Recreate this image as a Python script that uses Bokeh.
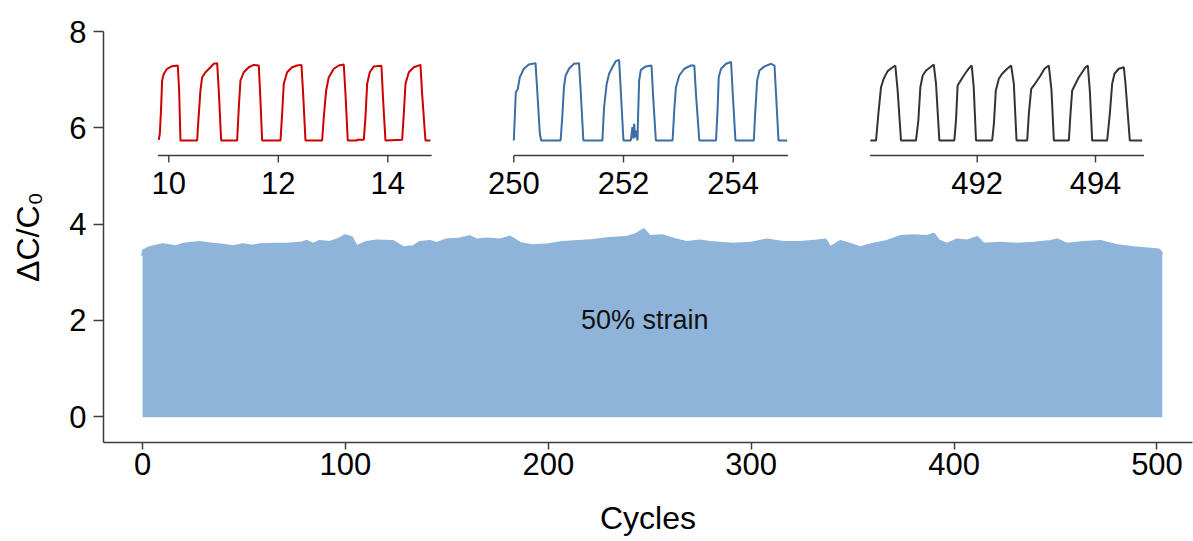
from bokeh.plotting import figure
from bokeh.models import Range1d
from bokeh.core.properties import value
from bokeh.embed import file_html
from bokeh.resources import INLINE

# ---------------- data ----------------
# upper envelope of the ΔC/C0 signal over 500 cycles
band_cycles = [0, 0.5, 3.5, 10, 16.6, 19.9, 28.1, 34.7, 39.6, 44.5, 49.5, 54.4, 57.7, 64.3, 70.9,
               77.5, 80.8, 84.1, 87.3, 92.3, 97.2, 99.7, 103, 105.4, 110.4, 115.3, 123.5, 128.5,
               133.4, 136.7, 141.6, 144.9, 149.8, 156.4, 161.3, 164.6, 169.6, 176.1, 181, 186,
               192, 200, 207, 215, 222, 230, 238, 243, 247, 250, 256, 262, 268, 274.8, 279.7,
               291.2, 299.5, 307.7, 315.9, 324.1, 332.3, 336.5, 338.9, 343.9, 348.8, 353.7,
               360.3, 366.9, 373.5, 380, 386.6, 389.9, 392.4, 396.5, 401.4, 406.4, 411.3, 414.6,
               422.8, 431, 439.2, 447.5, 450.8, 455.7, 463.9, 472.1, 480.4, 488.6, 496.8, 500.9,
               502.6]
band_top = [3.34, 3.45, 3.51, 3.57, 3.53, 3.58, 3.62, 3.58, 3.56, 3.53, 3.57, 3.54, 3.57, 3.58, 3.58,
            3.60, 3.64, 3.58, 3.64, 3.62, 3.69, 3.76, 3.72, 3.53, 3.62, 3.65, 3.64, 3.51,
            3.53, 3.62, 3.64, 3.60, 3.67, 3.69, 3.74, 3.67, 3.69, 3.67, 3.73, 3.60,
            3.55, 3.57, 3.62, 3.64, 3.66, 3.70, 3.72, 3.78, 3.88, 3.74, 3.76, 3.68, 3.62, 3.65, 3.62,
            3.58, 3.60, 3.67, 3.62, 3.62, 3.65, 3.67, 3.51, 3.64, 3.58, 3.51,
            3.58, 3.64, 3.74, 3.76, 3.74, 3.79, 3.65, 3.58, 3.67, 3.65, 3.72, 3.58,
            3.60, 3.58, 3.60, 3.64, 3.67, 3.58, 3.62, 3.64, 3.55, 3.51, 3.48, 3.46,
            3.38]
band_bottom = -0.01

x_ticks = [0, 100, 200, 300, 400, 500]
y_ticks = [0, 2, 4, 6, 8]

# inset 1 : cycles 10-14
in1_x = [9.817, 9.836, 9.860, 9.878, 9.909, 9.970, 10.061, 10.164, 10.189, 10.213,
         10.518, 10.536, 10.578, 10.609, 10.670, 10.761, 10.822, 10.883, 10.913, 10.956,
         11.248, 11.279, 11.309, 11.370, 11.461, 11.553, 11.644, 11.674, 11.705,
         12.040, 12.070, 12.100, 12.161, 12.253, 12.344, 12.423, 12.454, 12.496,
         12.801, 12.831, 12.874, 12.922, 13.014, 13.105, 13.196, 13.227, 13.269,
         13.440, 13.445, 13.562, 13.592, 13.623, 13.671, 13.744, 13.884, 13.915, 13.957,
         14.262, 14.292, 14.323, 14.384, 14.475, 14.597, 14.627, 14.688, 14.779]
in1_y = [0.03, 0.31, 1.54, 2.77, 3.08, 3.31, 3.43, 3.46, 2.31, 0.0,
         0.0, 0.77, 2.31, 2.92, 3.15, 3.38, 3.54, 3.57, 2.31, 0.0,
         0.0, 1.54, 2.77, 3.15, 3.38, 3.49, 3.46, 1.85, 0.0,
         0.0, 1.23, 2.62, 3.15, 3.38, 3.46, 3.49, 2.15, 0.0,
         0.0, 1.08, 2.31, 2.92, 3.31, 3.46, 3.51, 2.15, 0.0,
         0.0, 0.04, 0.04, 1.08, 2.62, 3.15, 3.42, 3.45, 1.85, 0.0,
         0.03, 1.23, 2.62, 3.15, 3.38, 3.49, 2.15, 0.0, 0.0]
in1_ticks = [10, 12, 14]

# inset 2 : cycles 250-255
in2_x = [250.000, 250.018, 250.037, 250.073, 250.110, 250.183, 250.274, 250.396, 250.427, 250.475, 250.500,
         250.853, 250.884, 250.914, 250.945, 251.006, 251.097, 251.189, 251.219, 251.268,
         251.615, 251.646, 251.694, 251.737, 251.798, 251.859, 251.920, 251.950, 251.999,
         252.133, 252.163, 252.181, 252.194, 252.212, 252.230, 252.255, 252.267, 252.285, 252.316,
         252.407, 252.511, 252.541, 252.590,
         252.895, 252.925, 252.956, 253.017, 253.108, 253.230, 253.291, 253.321, 253.382,
         253.687, 253.717, 253.736, 253.778, 253.870, 253.961, 253.992, 254.041,
         254.376, 254.400, 254.437, 254.479, 254.571, 254.692, 254.753, 254.784, 254.826, 254.984]
in2_y = [0.0, 1.08, 2.23, 2.38, 2.92, 3.31, 3.51, 3.57, 2.31, 0.31, 0.0,
         0.0, 1.08, 2.46, 3.0, 3.31, 3.54, 3.57, 2.31, 0.0,
         0.0, 1.54, 2.62, 3.08, 3.38, 3.66, 3.72, 2.31, 0.0,
         0.0, 0.62, 0.08, 0.77, 0.15, 0.46, 0.0, 1.23, 2.77, 3.26,
         3.42, 3.46, 2.0, 0.0,
         0.0, 1.38, 2.46, 3.0, 3.31, 3.46, 3.46, 2.15, 0.0,
         0.0, 1.54, 2.92, 3.31, 3.54, 3.62, 2.15, 0.0,
         0.0, 1.23, 2.77, 3.23, 3.42, 3.54, 3.46, 2.0, 0.0, 0.0]
in2_ticks = [250, 252, 254]

# inset 3 : cycles 490-495
in3_x = [490.194, 490.290, 490.329, 490.374, 490.419, 490.486, 490.571, 490.616, 490.655, 490.712,
         490.965, 491.005, 491.039, 491.079, 491.135, 491.208, 491.265, 491.304, 491.360,
         491.613, 491.641, 491.669, 491.703, 491.754, 491.811, 491.867, 491.907, 491.941, 491.980,
         492.253, 492.282, 492.315, 492.366, 492.422, 492.507, 492.574, 492.619, 492.665,
         492.845, 492.873, 492.913, 492.958, 493.014, 493.071, 493.138, 493.211, 493.256, 493.296,
         493.549, 493.577, 493.606, 493.662, 493.718, 493.775, 493.831, 493.870, 493.904, 493.944,
         494.197, 494.242, 494.282, 494.321, 494.394, 494.479, 494.507, 494.580, 494.789]
in3_y = [0.0, 0.0, 1.23, 2.46, 2.85, 3.20, 3.38, 3.46, 2.31, 0.0,
         0.0, 0.92, 2.46, 3.0, 3.23, 3.38, 3.51, 2.62, 0.0,
         0.0, 0.92, 2.54, 2.69, 2.92, 3.15, 3.35, 3.46, 2.46, 0.0,
         0.0, 0.77, 2.31, 2.85, 3.08, 3.31, 3.46, 2.62, 0.0,
         0.0, 1.23, 2.38, 2.54, 2.77, 3.0, 3.31, 3.46, 2.31, 0.0,
         0.0, 1.23, 2.31, 2.62, 2.92, 3.15, 3.38, 3.46, 2.31, 0.0,
         0.0, 1.23, 2.62, 3.08, 3.31, 3.38, 2.62, 0.0, 0.0]
in3_ticks = [492, 494]

# ---------------- layout constants ----------------
FONT = "Liberation Sans"
FRAME_L, FRAME_T, FRAME_W, FRAME_H = 103, 31, 1089, 411
AXIS_COLOR = "#3c3c3c"

# insets share one vertical mapping (pixel of value 0 and pixels per unit)
IN_BASE_PX, IN_PX_PER_UNIT = 140.0, 21.67
IN_AXIS_PX, IN_TICK_PX, IN_LABEL_PX = 155.0, 162.0, 182.0


def inset_xrange(px_a, v_a, px_b, v_b):
    s = (px_b - px_a) / (v_b - v_a)
    start = v_a - (px_a - FRAME_L) / s
    return Range1d(start, start + FRAME_W / s)


def in_y(px):
    return (IN_BASE_PX - px) / IN_PX_PER_UNIT


p = figure(frame_width=FRAME_W, frame_height=FRAME_H,
           x_range=Range1d(-19.24, 517.5), y_range=Range1d(-0.536, 8.0),
           output_backend="svg", toolbar_location=None,
           min_border_left=FRAME_L, min_border_right=1,
           min_border_top=FRAME_T, min_border_bottom=541 - FRAME_T - FRAME_H)
p.outline_line_color = None
p.xgrid.visible = False
p.ygrid.visible = False
p.background_fill_color = "white"
p.border_fill_color = "white"

p.extra_x_ranges = {
    "i1": inset_xrange(168.3, 10, 387.3, 14),
    "i2": inset_xrange(513.3, 250, 732.7, 254),
    "i3": inset_xrange(976.7, 492, 1095.0, 494),
}
p.extra_y_ranges = {"iy": Range1d(in_y(FRAME_T + FRAME_H), in_y(FRAME_T))}

for ax in (p.xaxis[0], p.yaxis[0]):
    ax.axis_line_color = AXIS_COLOR
    ax.axis_line_width = 1.5
    ax.major_tick_line_color = AXIS_COLOR
    ax.major_tick_line_width = 1.5
    ax.minor_tick_line_color = None
    ax.major_tick_in = 0
    ax.major_label_text_font = FONT
    ax.major_label_text_font_size = "31px"
    ax.major_label_text_color = "black"
    ax.axis_label_text_font = FONT
    ax.axis_label_text_font_style = "normal"
    ax.axis_label_text_color = "black"
    ax.axis_label_text_font_size = "32px"

p.xaxis.ticker = x_ticks
p.yaxis.ticker = y_ticks
p.xaxis.major_tick_out = 7
p.yaxis.major_tick_out = 10
p.xaxis.major_label_standoff = 3
p.yaxis.major_label_standoff = 7
p.xaxis.axis_label = "Cycles"
p.yaxis.axis_label = "ΔC/C₀"
p.xaxis.axis_label_standoff = 22
p.yaxis.axis_label_standoff = 20

# main band
BAND = "#8fb4d9"
p.varea(x=band_cycles, y1=band_bottom, y2=band_top, fill_color=BAND)
p.line(band_cycles, band_top, line_color=BAND, line_width=3, line_join="round")

p.text(x=[247.5], y=[2.0], text=["50% strain"], text_font=value(FONT),
       text_font_size="27px", text_align="center", text_baseline="middle",
       text_color="#111111")

# insets
insets = [
    ("i1", in1_x, in1_y, in1_ticks, "#cc0000", 9.80, 14.80),
    ("i2", in2_x, in2_y, in2_ticks, "#3a6ea5", 250.0, 255.0),
    ("i3", in3_x, in3_y, in3_ticks, "#333333", 490.19, 494.82),
]
for name, xs, ys, ticks, color, a0, a1 in insets:
    p.line(xs, ys, line_color=color, line_width=2, x_range_name=name, y_range_name="iy")
    p.segment(x0=[a0], y0=[in_y(IN_AXIS_PX)], x1=[a1], y1=[in_y(IN_AXIS_PX)],
              line_color=AXIS_COLOR, line_width=1.4, x_range_name=name, y_range_name="iy")
    p.segment(x0=ticks, y0=[in_y(IN_AXIS_PX)] * len(ticks), x1=ticks,
              y1=[in_y(IN_TICK_PX)] * len(ticks),
              line_color=AXIS_COLOR, line_width=1.4, x_range_name=name, y_range_name="iy")
    p.text(x=ticks, y=[in_y(IN_LABEL_PX)] * len(ticks), text=[str(t) for t in ticks],
           text_font=value(FONT), text_font_size="31px", text_align="center",
           text_baseline="middle", text_color="black",
           x_range_name=name, y_range_name="iy")

open("out.html", "w").write(file_html(p, INLINE))
